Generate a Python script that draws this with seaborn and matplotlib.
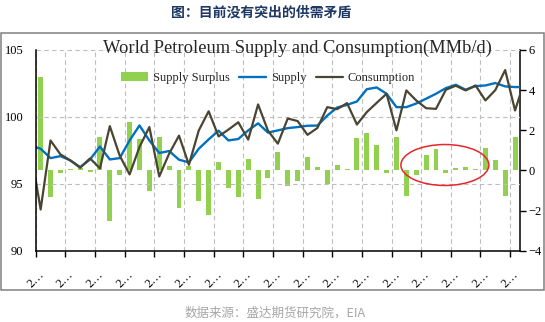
import numpy as np
import pandas as pd
import matplotlib
matplotlib.use("Agg")
import matplotlib.pyplot as plt
import matplotlib.transforms as mtransforms
from matplotlib.patches import Ellipse, Rectangle, Patch
from matplotlib.lines import Line2D
import seaborn as sns

# Monthly supply surplus, MMb/d (right axis)
surplus = [4.65, -1.33, -0.13, 0.07, 0.10, -0.08, 1.69, -2.52, -0.25, 2.39,
           1.58, -1.03, 1.69, 0.20, -1.86, 0.20, -1.50, -2.24, 0.42, -0.88,
           -1.33, 0.55, -1.43, -0.37, 0.91, -0.80, -0.53, 0.66, 0.17, -0.70,
           0.27, 0.08, 1.64, 1.86, 1.25, -0.13, 1.69, -1.25, -0.25, 0.75,
           1.05, -0.13, 0.12, 0.17, 0.08, 1.10, 0.52, -1.28, 1.69]

# World supply and consumption, MMb/d (left axis).
# The first and last entries are the neighbouring months just outside the window.
supply = [97.85,
          97.62, 96.92, 97.07, 96.75, 96.25, 96.82, 97.79, 96.82, 96.92, 98.24,
          99.36, 98.24, 97.30, 97.45, 96.80, 96.60, 97.62, 98.32, 98.97, 98.24,
          98.35, 98.99, 99.52, 98.83, 98.99, 99.16, 99.24, 99.34, 99.35, 100.10,
          100.70, 100.90, 101.15, 102.07, 102.20, 101.73, 100.73, 100.73, 101.00, 101.36,
          101.73, 102.15, 102.40, 102.03, 102.30, 102.35, 102.53, 102.28, 102.23,
          102.23]
consumption = [97.50,
               93.08, 98.24, 97.20, 96.75, 96.20, 96.90, 96.15, 99.31, 97.10, 95.70,
               97.75, 99.24, 95.55, 97.25, 98.60, 96.42, 98.99, 100.42, 98.54, 99.05,
               99.60, 98.30, 100.93, 98.97, 98.00, 99.88, 99.69, 98.66, 99.17, 100.73,
               100.58, 101.03, 99.43, 100.36, 101.05, 101.73, 98.99, 101.98, 101.23, 100.65,
               100.60, 102.03, 102.33, 101.98, 102.35, 101.23, 102.00, 103.50, 100.48,
               102.80]

# Quarterly category labels (truncated dates)
tick_labels = ["2…"] * 17

left_ticks = [90, 95, 100, 105]
right_ticks = [-4, -2, 0, 2, 4, 6]

GREEN = "#92D050"
BLUE = "#0070C0"
DARK = "#4A4530"
GRID = "#BDBDBD"

sns.set_style("white")
plt.rcParams["font.family"] = ["Liberation Serif", "DejaVu Serif"]

bars = pd.DataFrame({"month": np.arange(len(surplus)), "surplus": surplus})
lines = pd.DataFrame({"month": np.arange(-1, len(supply) - 1),
                      "supply": supply, "consumption": consumption})

W, H = 545, 322
fig = plt.figure(figsize=(W / 100, H / 100), dpi=100)
fig.patch.set_facecolor("white")

# outer frame
fig.patches.append(Rectangle((1 / W, 1 - 290 / H), 543 / W, 257 / H,
                             transform=fig.transFigure, fill=False,
                             edgecolor="#808080", linewidth=1.1))

ax = fig.add_axes([35.7 / W, 1 - 250.7 / H, (520 - 35.7) / W, (250.7 - 50) / H])
axb = ax.twinx()

sns.barplot(data=bars, x="month", y="surplus", ax=axb, color=GREEN,
            saturation=1, width=0.5, native_scale=True, legend=False,
            linewidth=0, edgecolor=GREEN)
sns.lineplot(data=lines, x="month", y="supply", ax=ax, color=BLUE,
             linewidth=1.7, legend=False)
sns.lineplot(data=lines, x="month", y="consumption", ax=ax, color=DARK,
             linewidth=1.6, legend=False)

ax.set_zorder(axb.get_zorder() + 1)
ax.patch.set_visible(False)

n = len(surplus)
ax.set_xlim(-0.5, n - 0.5)
ax.set_ylim(90, 105)
axb.set_ylim(-4, 6)
ax.set_yticks(left_ticks)
axb.set_yticks(right_ticks)
ax.set_xticks(np.arange(-0.5, n - 0.5, 3))
ax.set_xticklabels(tick_labels, rotation=45, ha="center", va="top", fontsize=9)
for lab in ax.get_xticklabels():
    lab.set_transform(lab.get_transform() +
                      mtransforms.ScaledTranslation(-5 / 100, 0, fig.dpi_scale_trans))
for a in (ax, axb):
    a.set_xlabel("")
    a.set_ylabel("")

ax.grid(True, color=GRID, linestyle=(0, (4, 3)), linewidth=0.8)
axb.grid(False)

for s in ("top", "right"):
    ax.spines[s].set_visible(False)
for s in ("left", "top", "bottom"):
    axb.spines[s].set_visible(False)
for sp in (ax.spines["left"], ax.spines["bottom"], axb.spines["right"]):
    sp.set_color("black")
    sp.set_linewidth(1.1)

ax.tick_params(axis="y", length=0, pad=9, labelsize=9, colors="black")
ax.tick_params(axis="x", length=4, width=1, direction="out", pad=9,
               colors="black", bottom=True)
axb.tick_params(axis="y", length=4, width=1, direction="out", pad=2,
                labelsize=9, colors="black", right=True)

# highlighted stretch of near-balanced months
focus = Ellipse((40.9, 0.27), 8.9, 2.04, transform=axb.transData,
                fill=False, edgecolor="#E8262A", linewidth=1.1, zorder=5)
ax.add_artist(focus)

handles = [Patch(facecolor=GREEN, edgecolor="none"),
           Line2D([], [], color=BLUE, linewidth=1.7),
           Line2D([], [], color=DARK, linewidth=1.6)]
fig.legend(handles, ["Supply Surplus", "Supply", "Consumption"],
           loc="center", bbox_to_anchor=(268 / W, 1 - 78 / H), ncol=3,
           frameon=False, fontsize=9, handlelength=2.2, handletextpad=0.4,
           columnspacing=0.7)

fig.text(297 / W, 1 - 48 / H, "World Petroleum Supply and Consumption(MMb/d)",
         ha="center", va="center", fontsize=13.3)

fig.text(261.5 / W, 1 - 13 / H, "图：目前没有突出的供需矛盾",
         ha="center", va="center", fontsize=10, fontweight="bold",
         color="#1F3864", family=["Noto Sans CJK SC", "DejaVu Sans"])

fig.text(185 / W, 1 - 313 / H, "数据来源：盛达期货研究院，EIA",
         ha="left", va="center", fontsize=9, color="#A6A6A6", style="italic",
         family=["Noto Sans CJK SC", "DejaVu Sans"])

fig.savefig("out.png", dpi=100, facecolor="white")
